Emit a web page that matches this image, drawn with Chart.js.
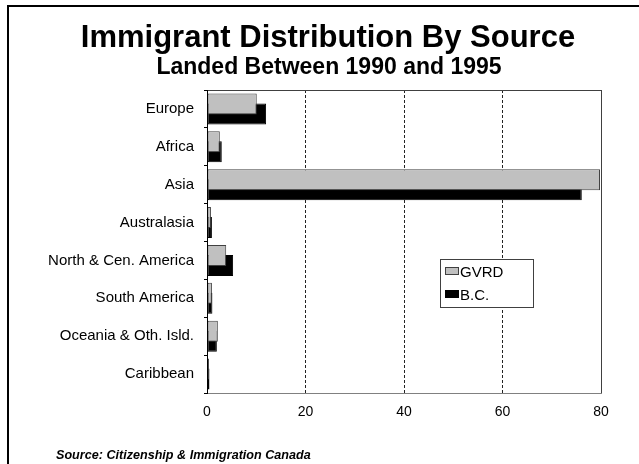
<!DOCTYPE html>
<html>
<head>
<meta charset="utf-8">
<script src="https://cdn.jsdelivr.net/npm/chart.js@4/dist/chart.umd.min.js"></script>
<style>
html,body{margin:0;padding:0;background:#fff;}
#wrap{position:relative;width:639px;height:464px;}
</style>
</head>
<body>
<div id="wrap"><canvas id="c" width="639" height="464"></canvas></div>
<script>
const categories = ["Europe","Africa","Asia","Australasia","North & Cen. America","South America","Oceania & Oth. Isld.","Caribbean"];
const gvrd = [10.1, 2.6, 79.8, 0.8, 3.9, 1.0, 2.2, 0.4];
const bc   = [12.0, 3.0, 76.1, 1.0, 5.3, 1.1, 2.0, 0.5];
const seriesNames = ["GVRD","B.C."];
const xTicks = [0,20,40,60,80];
const titleText = "Immigrant Distribution By Source";
const subtitleText = "Landed Between 1990 and 1995";
const sourceText = "Source: Citizenship & Immigration Canada";

const FONT = "Arial, 'Liberation Sans', sans-serif";

const decor = {
  id: 'decor',
  beforeDraw(chart) {
    const ctx = chart.ctx;
    ctx.save();
    ctx.fillStyle = '#fff';
    ctx.fillRect(0,0,chart.width,chart.height);
    ctx.restore();
  },
  afterDraw(chart) {
    const ctx = chart.ctx;
    const a = chart.chartArea;
    ctx.save();
    // page frame
    ctx.fillStyle = '#000';
    ctx.fillRect(7, 5, chart.width - 7, 2);
    ctx.fillRect(7, 5, 2, chart.height - 5);
    // plot frame
    ctx.lineWidth = 1;
    ctx.strokeStyle = '#404040';
    ctx.beginPath();
    ctx.moveTo(a.left, a.top + 0.5); ctx.lineTo(a.right + 0.5, a.top + 0.5);
    ctx.moveTo(a.right + 0.5, a.top); ctx.lineTo(a.right + 0.5, a.bottom);
    ctx.stroke();
    ctx.strokeStyle = '#808080';
    ctx.beginPath();
    ctx.moveTo(a.left, a.bottom + 0.5); ctx.lineTo(a.right + 1, a.bottom + 0.5);
    ctx.stroke();
    ctx.strokeStyle = '#000';
    ctx.beginPath();
    ctx.moveTo(a.left + 0.5, a.top); ctx.lineTo(a.left + 0.5, a.bottom + 1);
    ctx.stroke();
    // titles
    ctx.fillStyle = '#000';
    ctx.textAlign = 'center';
    ctx.textBaseline = 'alphabetic';
    ctx.font = 'bold 31px ' + FONT;
    ctx.fillText(titleText, 328, 47);
    ctx.font = 'bold 23px ' + FONT;
    ctx.fillText(subtitleText, 329, 74);
    ctx.textAlign = 'left';
    ctx.font = 'italic bold 12.6px ' + FONT;
    ctx.fillText(sourceText, 56, 459);
    // legend
    const lx = a.left + 233, ly = a.top + 169, lw = 93, lh = 48;
    ctx.fillStyle = '#fff';
    ctx.fillRect(lx, ly, lw, lh);
    ctx.strokeStyle = '#404040';
    ctx.strokeRect(lx + 0.5, ly + 0.5, lw, lh);
    const ds = chart.data.datasets;
    ctx.font = '15px ' + FONT;
    ctx.textBaseline = 'middle';
    for (let i = 0; i < ds.length; i++) {
      const sy = ly + 8 + i * 23;
      ctx.fillStyle = ds[i].backgroundColor;
      ctx.fillRect(lx + 5, sy, 14, 8);
      ctx.strokeStyle = ds[i].borderColor;
      ctx.strokeRect(lx + 5.5, sy + 0.5, 13, 7);
      ctx.fillStyle = '#000';
      ctx.fillText(ds[i].label, lx + 20, sy + 6);
    }
    ctx.restore();
  }
};

new Chart(document.getElementById('c'), {
  type: 'bar',
  data: {
    labels: categories,
    datasets: [
      { label: seriesNames[0], data: gvrd, backgroundColor: '#c0c0c0', borderColor: '#404040', borderWidth: 1, borderSkipped: false },
      { label: seriesNames[1], data: bc, backgroundColor: '#000000', borderColor: '#000000', borderWidth: 1, borderSkipped: false }
    ]
  },
  options: {
    indexAxis: 'y',
    responsive: false,
    animation: false,
    devicePixelRatio: 1,
    categoryPercentage: 0.528,
    barPercentage: 2.1,
    layout: { padding: { left: 0, top: 90, right: 38, bottom: 41 } },
    plugins: { legend: { display: false }, title: { display: false }, tooltip: { enabled: false } },
    scales: {
      x: {
        min: 0, max: 80,
        afterBuildTicks(scale) { scale.ticks = xTicks.map(v => ({ value: v })); },
        afterFit(scale) { scale.height = 30; },
        grid: { color: '#222', drawTicks: false, lineWidth: 1 },
        border: { display: false, dash: [3, 2] },
        ticks: { color: '#000', font: { family: FONT, size: 14 }, padding: 11 }
      },
      y: {
        afterFit(scale) { scale.width = 207; },
        grid: { display: true, drawOnChartArea: false, offset: true, tickLength: 3, color: '#000' },
        border: { display: false },
        ticks: { color: '#000', font: { family: FONT, size: 15 }, padding: 10 }
      }
    }
  },
  plugins: [decor]
});
</script>
</body>
</html>
